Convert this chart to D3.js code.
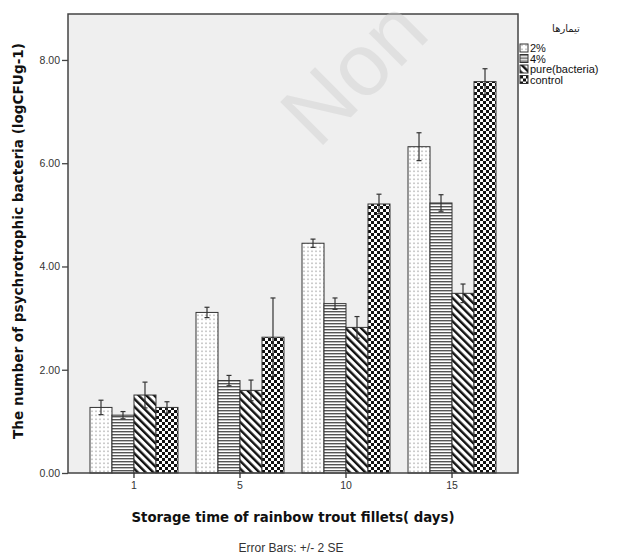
<!DOCTYPE html>
<html>
<head>
<meta charset="utf-8">
<script src="https://cdn.jsdelivr.net/npm/d3@7"></script>
<style>
  body { margin: 0; background: #fff; }
  text { font-family: "Liberation Sans", Arial, sans-serif; }
</style>
</head>
<body>
<div id="chart"></div>
<script>
// data
var days = ["1", "5", "10", "15"];
var seriesNames = ["2%", "4%", "pure(bacteria)", "control"];
var mean2 = [1.27, 3.11, 4.45, 6.32];
var mean4 = [1.12, 1.79, 3.28, 5.23];
var meanPure = [1.51, 1.60, 2.82, 3.48];
var meanControl = [1.27, 2.63, 5.21, 7.58];
// +/- 2 SE
var err2 = [0.14, 0.10, 0.08, 0.27];
var err4 = [0.07, 0.10, 0.11, 0.16];
var errPure = [0.25, 0.20, 0.21, 0.18];
var errControl = [0.11, 0.76, 0.19, 0.25];
var yTicks = [0, 2, 4, 6, 8];

var means = [mean2, mean4, meanPure, meanControl];
var errs = [err2, err4, errPure, errControl];
var patternIds = ["p-dots", "p-hlines", "p-diag", "p-check"];

var rows = [];
days.forEach(function(day, i) {
    seriesNames.forEach(function(s, j) {
        rows.push({ day: day, series: s, value: means[j][i], err: errs[j][i], pat: patternIds[j] });
    });
});

var width = 617, height = 558;
var margin = { top: 14, right: 99, bottom: 85, left: 68 };
var plotW = width - margin.left - margin.right,
    plotH = height - margin.top - margin.bottom;

var svg = d3.select("#chart").append("svg")
    .attr("width", width)
    .attr("height", height);

/*---- patterns ----*/
var defs = svg.append("defs");

var pDots = defs.append("pattern").attr("id", "p-dots")
    .attr("patternUnits", "userSpaceOnUse").attr("width", 4).attr("height", 4);
pDots.append("rect").attr("width", 4).attr("height", 4).attr("fill", "#fff");
pDots.append("rect").attr("x", 1.5).attr("y", 0.5).attr("width", 1).attr("height", 1.6).attr("fill", "#999");

var pH = defs.append("pattern").attr("id", "p-hlines")
    .attr("patternUnits", "userSpaceOnUse").attr("width", 4).attr("height", 3);
pH.append("rect").attr("width", 4).attr("height", 3).attr("fill", "#fff");
pH.append("rect").attr("y", 0).attr("width", 4).attr("height", 1.4).attr("fill", "#555");

var pD = defs.append("pattern").attr("id", "p-diag")
    .attr("patternUnits", "userSpaceOnUse").attr("width", 5.5).attr("height", 5.5)
    .attr("patternTransform", "rotate(-45)");
pD.append("rect").attr("width", 5.5).attr("height", 5.5).attr("fill", "#fff");
pD.append("rect").attr("width", 2.4).attr("height", 5.5).attr("fill", "#111");

var pC = defs.append("pattern").attr("id", "p-check")
    .attr("patternUnits", "userSpaceOnUse").attr("width", 6).attr("height", 6);
pC.append("rect").attr("width", 6).attr("height", 6).attr("fill", "#fff");
pC.append("rect").attr("width", 3).attr("height", 3).attr("fill", "#111");
pC.append("rect").attr("x", 3).attr("y", 3).attr("width", 3).attr("height", 3).attr("fill", "#111");

/*---- scales ----*/
var x0 = d3.scaleBand()
    .domain(days)
    .range([0, plotW])
    .paddingInner(0.17)
    .paddingOuter(0.2075);

var x1 = d3.scaleBand()
    .domain(seriesNames)
    .range([0, x0.bandwidth()]);

var y = d3.scaleLinear()
    .domain([0, 8.89])
    .range([plotH, 0]);

var g = svg.append("g")
    .attr("transform", "translate(" + margin.left + "," + margin.top + ")");

// plot background
g.append("rect")
    .attr("width", plotW)
    .attr("height", plotH)
    .attr("fill", "#efefef");

/*---- bars ----*/
var groups = g.selectAll(".grp")
    .data(days)
    .enter()
    .append("g")
    .attr("class", "grp")
    .attr("transform", d => "translate(" + x0(d) + ",0)");

groups.selectAll("rect")
    .data(d => rows.filter(r => r.day === d))
    .enter()
    .append("rect")
    .attr("x", d => x1(d.series))
    .attr("y", d => y(d.value))
    .attr("width", x1.bandwidth())
    .attr("height", d => plotH - y(d.value))
    .attr("fill", d => "url(#" + d.pat + ")")
    .attr("stroke", "#333")
    .attr("stroke-width", 1);

// error bars
var eb = groups.selectAll(".eb")
    .data(d => rows.filter(r => r.day === d))
    .enter()
    .append("g")
    .attr("class", "eb")
    .attr("transform", d => "translate(" + (x1(d.series) + x1.bandwidth() / 2) + ",0)")
    .attr("stroke", "#333")
    .attr("stroke-width", 1.2);

eb.append("line")
    .attr("y1", d => y(d.value - d.err))
    .attr("y2", d => y(d.value + d.err));
eb.append("line")
    .attr("x1", -2.5).attr("x2", 2.5)
    .attr("y1", d => y(d.value + d.err))
    .attr("y2", d => y(d.value + d.err));
eb.append("line")
    .attr("x1", -2.5).attr("x2", 2.5)
    .attr("y1", d => y(d.value - d.err))
    .attr("y2", d => y(d.value - d.err));

/*---- watermark ----*/
svg.append("text")
    .attr("transform", "translate(318,150) rotate(-45)")
    .attr("font-size", 88)
    .attr("fill", "#cfcfcf")
    .attr("opacity", 0.45)
    .text("Non");

// frame
g.append("rect")
    .attr("width", plotW)
    .attr("height", plotH)
    .attr("fill", "none")
    .attr("stroke", "#444")
    .attr("stroke-width", 1.5);

/*---- axes ----*/
var yAxis = g.append("g")
    .call(d3.axisLeft(y).tickValues(yTicks).tickFormat(d3.format(".2f")).tickSize(6).tickPadding(2));
yAxis.select(".domain").remove();
yAxis.selectAll("line").attr("stroke", "#444").attr("stroke-width", 1.3);
yAxis.selectAll("text").attr("font-size", 10.5).attr("fill", "#333")
    .style("font-family", "'Liberation Sans', Arial, sans-serif");

var xAxis = g.append("g")
    .attr("transform", "translate(0," + plotH + ")")
    .call(d3.axisBottom(x0).tickSize(5).tickPadding(4));
xAxis.select(".domain").remove();
xAxis.selectAll("line").attr("stroke", "#333").attr("stroke-width", 1.3);
xAxis.selectAll("text").attr("font-size", 10.5).attr("fill", "#333")
    .style("font-family", "'Liberation Sans', Arial, sans-serif");

/*---- titles ----*/
svg.append("text")
    .attr("x", 293)
    .attr("y", 522)
    .attr("text-anchor", "middle")
    .attr("font-size", 13.3)
    .attr("font-weight", "bold")
    .attr("fill", "#111")
    .style("font-family", "'DejaVu Sans', sans-serif")
    .text("Storage time of rainbow trout fillets( days)");

svg.append("text")
    .attr("transform", "translate(23,241) rotate(-90)")
    .attr("text-anchor", "middle")
    .attr("font-size", 13.6)
    .attr("font-weight", "bold")
    .attr("fill", "#111")
    .style("font-family", "'DejaVu Sans', sans-serif")
    .text("The number of psychrotrophic bacteria (logCFUg-1)");

svg.append("text")
    .attr("x", 291)
    .attr("y", 552)
    .attr("text-anchor", "middle")
    .attr("font-size", 12)
    .attr("fill", "#333")
    .text("Error Bars: +/- 2 SE");

/*---- legend ----*/
svg.append("text")
    .attr("x", 566)
    .attr("y", 32)
    .attr("text-anchor", "middle")
    .attr("font-size", 10)
    .attr("fill", "#222")
    .style("font-family", "'DejaVu Sans', sans-serif")
    .text("تیمارها");

var legend = svg.append("g")
    .attr("transform", "translate(520,44)");

var li = legend.selectAll(".li")
    .data(seriesNames)
    .enter()
    .append("g")
    .attr("class", "li")
    .attr("transform", (d, i) => "translate(0," + (i * 10.5) + ")");

li.append("rect")
    .attr("width", 8)
    .attr("height", 8)
    .attr("fill", (d, i) => "url(#" + patternIds[i] + ")")
    .attr("stroke", "#333")
    .attr("stroke-width", 1);

li.append("text")
    .attr("x", 10)
    .attr("y", 8)
    .attr("font-size", 11)
    .attr("fill", "#111")
    .text(d => d);
</script>
</body>
</html>
